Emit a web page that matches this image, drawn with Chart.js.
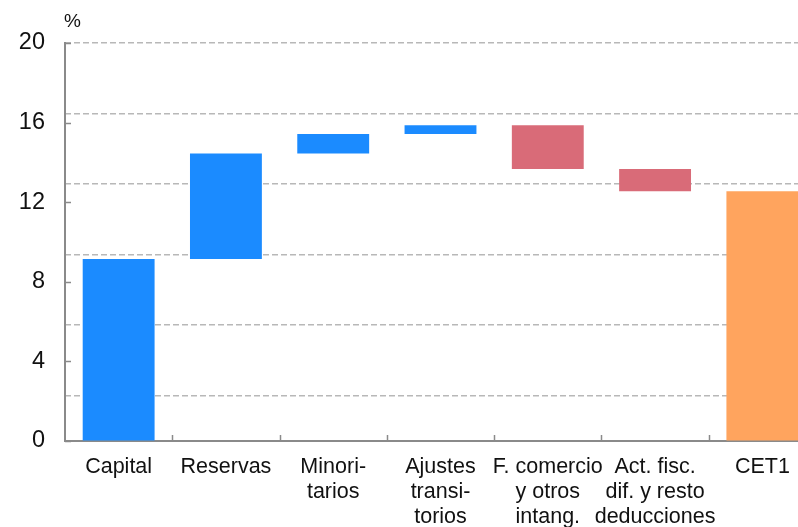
<!DOCTYPE html>
<html>
<head>
<meta charset="utf-8">
<script src="https://cdn.jsdelivr.net/npm/chart.js@4"></script>
<style>
    html, body { margin: 0; padding: 0; background: #fff; overflow: hidden; }
    #wrap { position: relative; width: 816px; height: 527px; }
</style>
</head>
<body>
<div id="wrap"><canvas id="chart"></canvas></div>
<script>
// 카테고리 (줄바꿈 포함)
const categories = [
    ['Capital'],
    ['Reservas'],
    ['Minori-', 'tarios'],
    ['Ajustes', 'transi-', 'torios'],
    ['F. comercio', 'y otros', 'intang.'],
    ['Act. fisc.', 'dif. y resto', 'deducciones'],
    ['CET1']
];
// 막대 시작/끝 값 (%)
const barLow  = [0,    9.15,  14.45, 15.43, 13.67, 12.55, 0];
const barHigh = [9.15, 14.45, 15.43, 15.87, 15.87, 13.67, 12.55];
const yTickValues = [0, 4, 8, 12, 16, 20];

const colors = {
    up: '#1b8bff',
    down: '#d96b78',
    total: '#ffa45e',
    axis: '#8a8a8a',
    grid: '#b8b8b8',
    text: '#111'
};
const barColors = [colors.up, colors.up, colors.up, colors.up, colors.down, colors.down, colors.total];

// 보조 격자선 간격 (원본 그림 기준)
const gridStep = 3.543;

const innerTicks = {
    id: 'innerTicks',
    afterDraw(chart) {
        const ctx = chart.ctx;
        const x = chart.scales.x;
        const y = chart.scales.y;
        ctx.save();
        ctx.strokeStyle = colors.axis;
        ctx.lineWidth = 1.5;
        ctx.beginPath();
        yTickValues.forEach(v => {
            const py = Math.round(y.getPixelForValue(v)) + 0.5;
            ctx.moveTo(x.left, py);
            ctx.lineTo(x.left + 6, py);
        });
        for (let i = 1; i < categories.length; i++) {
            const px = Math.round((x.getPixelForValue(i - 1) + x.getPixelForValue(i)) / 2) + 0.5;
            ctx.moveTo(px, y.bottom);
            ctx.lineTo(px, y.bottom - 6);
        }
        ctx.stroke();

        ctx.fillStyle = colors.text;
        ctx.font = '19px "Liberation Sans", Arial, sans-serif';
        ctx.textAlign = 'left';
        ctx.textBaseline = 'alphabetic';
        ctx.fillText('%', 64, 27);
        ctx.restore();
    }
};

new Chart(document.getElementById('chart').getContext('2d'), {
    type: 'bar',
    data: {
        labels: categories,
        datasets: [{
            data: barLow.map((lo, i) => [lo, barHigh[i]]),
            backgroundColor: barColors,
            borderWidth: 0,
            barPercentage: 1,
            categoryPercentage: 0.67
        }]
    },
    options: {
        responsive: true,
        maintainAspectRatio: false,
        animation: false,
        layout: { padding: { top: 43, left: 0, right: 0, bottom: 0 } },
        plugins: {
            legend: { display: false },
            tooltip: { enabled: false }
        },
        scales: {
            x: {
                grid: { display: false, drawTicks: false },
                border: { color: colors.axis, width: 2 },
                ticks: {
                    color: colors.text,
                    padding: 14,
                    maxRotation: 0,
                    autoSkip: false,
                    font: { family: '"Liberation Sans", Arial, sans-serif', size: 21.5, lineHeight: 1.16 }
                },
                afterFit(scale) { scale.height = 86; }
            },
            y: {
                min: 0,
                max: 20,
                grid: { drawOnChartArea: false, drawTicks: false },
                border: { color: colors.axis, width: 2 },
                ticks: {
                    stepSize: 4,
                    color: colors.text,
                    padding: 20,
                    font: { family: '"Liberation Sans", Arial, sans-serif', size: 23.5 }
                },
                afterFit(scale) { scale.width = 65; }
            },
            y2: {
                position: 'right',
                reverse: true,
                min: 0,
                max: 20 / gridStep,
                grid: { color: colors.grid, lineWidth: 1.5, drawTicks: false },
                border: { display: false, dash: [6, 3] },
                ticks: { display: false, stepSize: 1 },
                afterFit(scale) { scale.width = 0; }
            }
        }
    },
    plugins: [innerTicks]
});
</script>
</body>
</html>
